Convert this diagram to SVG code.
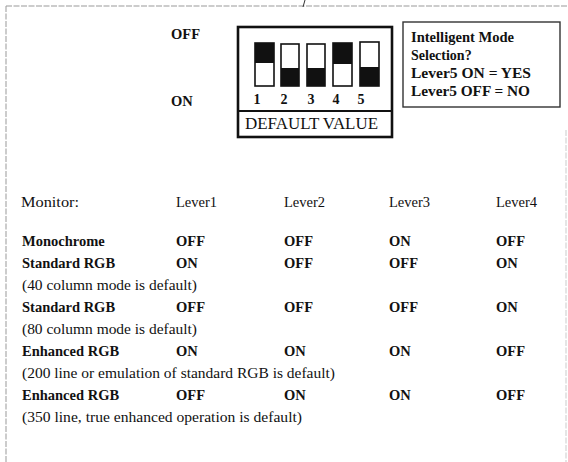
<svg xmlns="http://www.w3.org/2000/svg" width="568" height="462" viewBox="0 0 568 462">
<style>
text{font-family:"Liberation Serif","Times New Roman",serif;fill:#111}
.b{font-weight:bold}
.t{font-size:14.5px}
.frame{stroke:#999;stroke-width:1;fill:none;stroke-dasharray:6 1.5}
.sw{fill:#fff;stroke:#111;stroke-width:1.6}
.blk{fill:#111}
</style>
<rect width="568" height="462" fill="#fff"/>
<g id="frame">
<line class="frame" x1="6" y1="6" x2="567" y2="6"/>
<line class="frame" x1="6" y1="6" x2="6" y2="462"/>
<line class="frame" x1="566" y1="130" x2="566" y2="462" stroke-opacity="0.5"/>
<line x1="305" y1="0" x2="303" y2="7" stroke="#333" stroke-width="1"/>
</g>
<g id="labels-top">
<text class="b" x="171" y="39" font-size="14.5">OFF</text>
<text class="b" x="171" y="106" font-size="14.5">ON</text>
</g>
<g id="dip-switch">
<rect x="238" y="27" width="154" height="110" fill="#fff" stroke="#111" stroke-width="2.6"/>
<line x1="238" y1="111" x2="392" y2="111" stroke="#111" stroke-width="2.2"/>
<rect class="sw" x="255" y="43" width="19" height="43"/><rect class="blk" x="255" y="43" width="19" height="20"/>
<rect class="sw" x="281" y="44" width="18" height="42"/><rect class="blk" x="281" y="68" width="18" height="18"/>
<rect class="sw" x="307" y="44" width="18" height="42"/><rect class="blk" x="307" y="68" width="18" height="18"/>
<rect class="sw" x="333" y="43" width="19" height="43"/><rect class="blk" x="333" y="43" width="19" height="21"/>
<rect class="sw" x="360" y="42" width="19" height="44"/><rect class="blk" x="360" y="67" width="19" height="19"/>
<g class="b" font-size="14" text-anchor="middle">
<text x="257" y="104">1</text><text x="284" y="104">2</text><text x="311" y="104">3</text><text x="336" y="104">4</text><text x="361" y="104">5</text>
</g>
<text x="245" y="129" font-size="16" textLength="133" lengthAdjust="spacingAndGlyphs">DEFAULT VALUE</text>
</g>
<g id="intelligent-box">
<rect x="403" y="22" width="157" height="85" fill="#fff" stroke="#333" stroke-width="1.4"/>
<g class="b" font-size="14">
<text x="411" y="42" textLength="103" lengthAdjust="spacingAndGlyphs">Intelligent Mode</text>
<text x="411" y="60">Selection?</text>
<text x="411" y="78" textLength="120" lengthAdjust="spacingAndGlyphs">Lever5 ON = YES</text>
<text x="411" y="96" textLength="119" lengthAdjust="spacingAndGlyphs">Lever5 OFF = NO</text>
</g>
</g>
<g id="table" class="t">
<text x="21" y="207" textLength="58" lengthAdjust="spacingAndGlyphs">Monitor:</text>
<text x="176" y="207">Lever1</text>
<text x="284" y="207">Lever2</text>
<text x="389" y="207">Lever3</text>
<text x="496" y="207">Lever4</text>

<g class="b">
<text x="22" y="246">Monochrome</text><text x="176" y="246">OFF</text><text x="284" y="246">OFF</text><text x="389" y="246">ON</text><text x="496" y="246">OFF</text>
<text x="22" y="268">Standard RGB</text><text x="176" y="268">ON</text><text x="284" y="268">OFF</text><text x="389" y="268">OFF</text><text x="496" y="268">ON</text>
<text x="22" y="312">Standard RGB</text><text x="176" y="312">OFF</text><text x="284" y="312">OFF</text><text x="389" y="312">OFF</text><text x="496" y="312">ON</text>
<text x="22" y="356">Enhanced RGB</text><text x="176" y="356">ON</text><text x="284" y="356">ON</text><text x="389" y="356">ON</text><text x="496" y="356">OFF</text>
<text x="22" y="400">Enhanced RGB</text><text x="176" y="400">OFF</text><text x="284" y="400">ON</text><text x="389" y="400">ON</text><text x="496" y="400">OFF</text>
</g>
<text x="22" y="290" textLength="175" lengthAdjust="spacingAndGlyphs">(40 column mode is default)</text>
<text x="22" y="334" textLength="175" lengthAdjust="spacingAndGlyphs">(80 column mode is default)</text>
<text x="22" y="378" textLength="313" lengthAdjust="spacingAndGlyphs">(200 line or emulation of standard RGB is default)</text>
<text x="22" y="422" textLength="280" lengthAdjust="spacingAndGlyphs">(350 line, true enhanced operation is default)</text>
</g>
</svg>
